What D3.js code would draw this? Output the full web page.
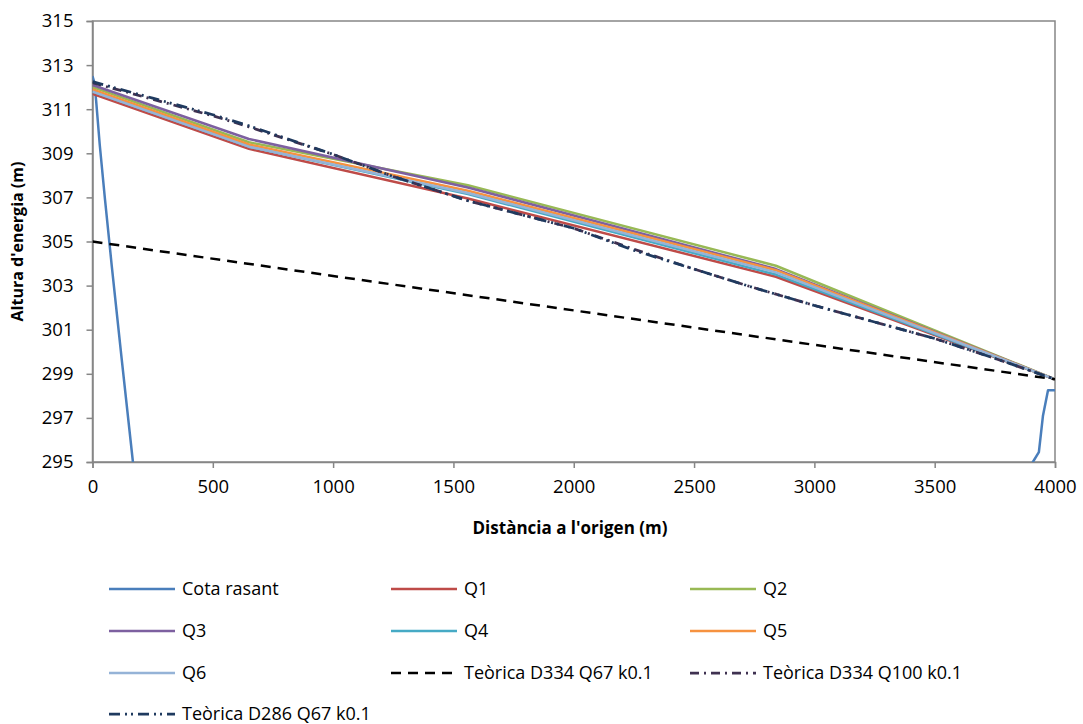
<!DOCTYPE html>
<html>
<head>
<meta charset="utf-8">
<script src="https://cdn.jsdelivr.net/npm/d3@7"></script>
<style>
  body { margin: 0; background: #fff; }
  svg text { font-family: "Open Sans", "Liberation Sans", sans-serif; fill: #000; }
</style>
</head>
<body>
<div id="chart"></div>
<script>
// --- data ---
const rasantX = [0, 8, 15, 30, 52, 80, 120, 168, 200, 3890, 3908, 3933, 3950, 3971, 4000];
const rasantY = [312.5, 312.2, 311.4, 309.4, 306.9, 303.9, 299.8, 295, 291.7, 293.5, 295, 295.45, 297.1, 298.25, 298.25];

const qX = [0, 650, 1560, 2840, 4000];
const q1 = [311.7, 309.2, 306.95, 303.4, 298.75];
const q2 = [312.0, 309.5, 307.55, 303.9, 298.75];
const q3 = [312.1, 309.65, 307.45, 303.75, 298.75];
const q4 = [311.8, 309.3, 307.15, 303.5, 298.75];
const q5 = [311.9, 309.4, 307.3, 303.7, 298.75];
const q6 = [311.8, 309.3, 307.2, 303.6, 298.75];

const teo334q67X = [0, 4000];
const teo334q67 = [305.0, 298.75];

const teoX = [0, 250, 500, 650, 1000, 1250, 1560, 2000, 2250, 2500, 2750, 3000, 3250, 3500, 3750, 4000];
const teo334q100 = [312.2, 311.45, 310.7, 310.2, 308.95, 307.95, 306.85, 305.6, 304.65, 303.75, 302.9, 302.1, 301.35, 300.6, 299.7, 298.75];
const teo286q67 = [312.25, 311.5, 310.75, 310.25, 308.95, 307.95, 306.85, 305.6, 304.6, 303.75, 302.9, 302.1, 301.35, 300.6, 299.7, 298.75];

const xTicks = [0, 500, 1000, 1500, 2000, 2500, 3000, 3500, 4000];
const yTicks = [295, 297, 299, 301, 303, 305, 307, 309, 311, 313, 315];

const series = [
  { name: 'Cota rasant', xs: rasantX, ys: rasantY, color: '#4A7EBB', width: 2.5, dash: null },
  { name: 'Q1', xs: qX, ys: q1, color: '#BE4B48', width: 2.5, dash: null },
  { name: 'Q2', xs: qX, ys: q2, color: '#98B954', width: 2.5, dash: null },
  { name: 'Q3', xs: qX, ys: q3, color: '#7D60A0', width: 2.5, dash: null },
  { name: 'Q4', xs: qX, ys: q4, color: '#46AAC5', width: 2.5, dash: null },
  { name: 'Q5', xs: qX, ys: q5, color: '#F69240', width: 2.5, dash: null },
  { name: 'Q6', xs: qX, ys: q6, color: '#95B3D7', width: 2.5, dash: null },
  { name: 'Teòrica D334 Q67 k0.1', xs: teo334q67X, ys: teo334q67, color: '#000000', width: 2.5, dash: '10,7' },
  { name: 'Teòrica D334 Q100 k0.1', xs: teoX, ys: teo334q100, color: '#3F3151', width: 2.75, dash: '9,5,2,5' },
  { name: 'Teòrica D286 Q67 k0.1', xs: teoX, ys: teo286q67, color: '#1F3A5F', width: 2.75, dash: '11,5,2,4,2,5' }
];

// --- layout ---
const W = 1083, H = 724;
const plot = { left: 92.5, right: 1055, top: 21, bottom: 462 };

const svg = d3.select('#chart').append('svg')
  .attr('width', W)
  .attr('height', H);

const x = d3.scaleLinear().domain([0, 4000]).range([plot.left, plot.right]);
const y = d3.scaleLinear().domain([295, 315]).range([plot.bottom, plot.top]);

svg.append('defs').append('clipPath').attr('id', 'clip')
  .append('rect')
  .attr('x', plot.left).attr('y', plot.top)
  .attr('width', plot.right - plot.left).attr('height', plot.bottom - plot.top);

// plot border
svg.append('rect')
  .attr('x', plot.left).attr('y', plot.top)
  .attr('width', plot.right - plot.left).attr('height', plot.bottom - plot.top)
  .attr('fill', 'none').attr('stroke', '#868686').attr('stroke-width', 1.5);

// axes
const xAxis = svg.append('g')
  .attr('transform', `translate(0,${plot.bottom})`)
  .call(d3.axisBottom(x).tickValues(xTicks).tickSize(6).tickPadding(12).tickFormat(d3.format('d')));
const yAxis = svg.append('g')
  .attr('transform', `translate(${plot.left},0)`)
  .call(d3.axisLeft(y).tickValues(yTicks).tickSize(6).tickPadding(13).tickFormat(d3.format('d')));

[xAxis, yAxis].forEach(g => {
  g.select('.domain').attr('stroke', '#868686').attr('stroke-width', 1.5);
  g.selectAll('.tick line').attr('stroke', '#868686').attr('stroke-width', 1.5);
  g.selectAll('.tick text').style('font-size', '18.5px').attr('fill', '#000');
});

// lines
const lineGen = d3.line().x(d => x(d[0])).y(d => y(d[1]));
const lines = svg.append('g').attr('clip-path', 'url(#clip)');

series.forEach(s => {
  const pts = s.xs.map((v, i) => [v, s.ys[i]]);
  const segs = s.name === 'Cota rasant' ? [pts.slice(0, 9), pts.slice(9)] : [pts];
  segs.forEach(seg => {
    lines.append('path')
      .datum(seg)
      .attr('d', lineGen)
      .attr('fill', 'none')
      .attr('stroke', s.color)
      .attr('stroke-width', s.width)
      .attr('stroke-dasharray', s.dash)
      .attr('stroke-linejoin', 'round');
  });
});

// axis titles
svg.append('text')
  .attr('x', 570)
  .attr('y', 534)
  .attr('text-anchor', 'middle')
  .style('font-size', '17px')
  .style('font-weight', 'bold')
  .text("Distància a l'origen (m)");

svg.append('text')
  .attr('transform', `translate(23,${(plot.top + plot.bottom) / 2}) rotate(-90)`)
  .attr('text-anchor', 'middle')
  .style('font-size', '16px')
  .style('font-weight', 'bold')
  .text("Altura d'energia (m)");

// legend: 3 columns
const colX = [109, 391, 690];
const rowY = [589, 631, 673, 714];
const legend = svg.append('g');
series.forEach((s, i) => {
  const cx = colX[i % 3], cy = rowY[Math.floor(i / 3)];
  legend.append('line')
    .attr('x1', cx).attr('x2', cx + 66)
    .attr('y1', cy).attr('y2', cy)
    .attr('stroke', s.color)
    .attr('stroke-width', s.width)
    .attr('stroke-dasharray', s.dash);
  legend.append('text')
    .attr('x', cx + 73)
    .attr('y', cy)
    .attr('dy', '0.35em')
    .style('font-size', '18px')
    .text(s.name);
});
</script>
</body>
</html>
